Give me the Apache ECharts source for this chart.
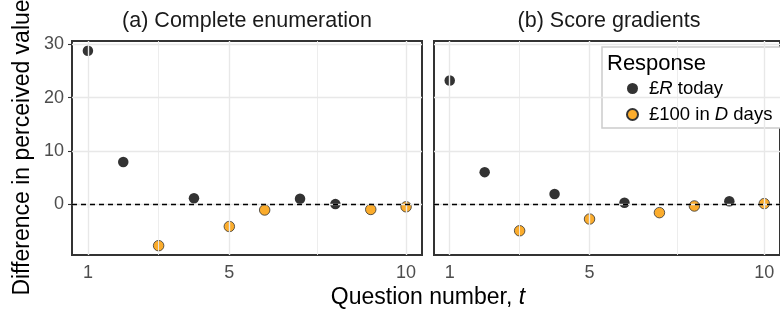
<!DOCTYPE html>
<html>
<head>
<meta charset="utf-8">
<script src="https://cdn.jsdelivr.net/npm/echarts@6/dist/echarts.min.js"></script>
<style>
  html, body { margin: 0; background: #fff; }
  #chart { width: 780px; height: 317px; }
</style>
</head>
<body>
<div id="chart"></div>
<script>
// data
const questions = [1, 2, 3, 4, 5, 6, 7, 8, 9, 10]
const enumValues = [28.8, 7.9, -7.8, 1.1, -4.2, -1.1, 1.0, 0, -1.0, -0.5]
const enumResponse = ['R', 'R', 'D', 'R', 'D', 'D', 'R', 'R', 'D', 'D']
const gradValues = [23.2, 6.0, -5.0, 1.9, -2.8, 0.25, -1.6, -0.35, 0.55, 0.1]
const gradResponse = ['R', 'R', 'D', 'R', 'D', 'R', 'D', 'D', 'R', 'D']

const panelTitles = ['(a) Complete enumeration', '(b) Score gradients']
const responseKeys = ['R', 'D']
const responseNames = ['£R today', '£100 in D days']
const xLabelBreaks = [1, 5, 10]
const xMinorBreaks = [3, 7.5]
const yBreaks = [0, 10, 20, 30]

const FONT = 'Liberation Sans, Arial, sans-serif'
const colors = { R: '#333333', D: '#FBAC2C' }

const chart = echarts.init(document.getElementById('chart'), null, { renderer: 'canvas' })

const panels = [
  { values: enumValues, response: enumResponse, left: 72 },
  { values: gradValues, response: gradResponse, left: 434 }
]

const grids = panels.map(p => ({
  left: p.left, top: 41, width: 350, height: 214,
  show: true, borderColor: '#333333', borderWidth: 2, backgroundColor: '#fff',
  containLabel: false
}))

const xAxes = panels.map((p, i) => ({
  type: 'value', gridIndex: i, min: 0.55, max: 10.45,
  axisLine: { show: false },
  splitLine: { show: false },
  axisTick: { show: true, customValues: xLabelBreaks, length: 4, lineStyle: { color: '#333', width: 1.1 } },
  axisLabel: { customValues: xLabelBreaks, color: '#4D4D4D', fontSize: 18, fontFamily: FONT, margin: 9 }
}))

const yAxes = panels.map((p, i) => ({
  type: 'value', gridIndex: i, min: -9.55, max: 30.62,
  axisLine: { show: false },
  splitLine: { show: false },
  axisTick: { show: i === 0, customValues: yBreaks, length: 4, lineStyle: { color: '#333', width: 1.1 } },
  axisLabel: { show: i === 0, customValues: yBreaks, color: '#4D4D4D', fontSize: 18, fontFamily: FONT, margin: 8 }
}))

const series = []
panels.forEach((p, i) => {
  // background grid + zero line
  series.push({
    type: 'scatter', xAxisIndex: i, yAxisIndex: i, data: [], z: 1, silent: true,
    markLine: {
      silent: true, symbol: 'none', label: { show: false }, animation: false,
      data: [
        ...xLabelBreaks.map(v => ({ xAxis: v, lineStyle: { color: '#E8E8E8', width: 1.4, type: 'solid' } })),
        ...xMinorBreaks.map(v => ({ xAxis: v, lineStyle: { color: '#EBEBEB', width: 0.9, type: 'solid' } })),
        ...yBreaks.map(v => ({ yAxis: v, lineStyle: { color: '#E8E8E8', width: 1.4, type: 'solid' } })),
        { yAxis: 0, lineStyle: { color: '#000', width: 1.3, type: [5, 4] } }
      ]
    }
  })
  responseKeys.forEach((key, k) => {
    series.push({
      name: responseNames[k], type: 'scatter', xAxisIndex: i, yAxisIndex: i, z: 3,
      symbol: 'circle', symbolSize: 10.5,
      itemStyle: {
        color: colors[key], opacity: 1,
        borderColor: key === 'D' ? '#333' : colors[key], borderWidth: key === 'D' ? 0.8 : 0
      },
      data: questions.map((q, j) => [q, p.values[j]]).filter((d, j) => p.response[j] === key)
    })
  })
})

const legendText = {
  '£R today': '{g|}{n|£}{i|R}{n| today}',
  '£100 in D days': '{g|}{n|£100 in }{i|D}{n| days}'
}

const option = {
  animation: false,
  backgroundColor: '#fff',
  grid: grids,
  xAxis: xAxes,
  yAxis: yAxes,
  series: series,
  legend: {
    data: responseNames,
    orient: 'vertical',
    left: 621, top: 74, z: 10,
    itemWidth: 11, itemHeight: 11, itemGap: 7,
    icon: 'circle',
    selectedMode: false,
    formatter: name => legendText[name],
    textStyle: {
      fontFamily: FONT, fontSize: 18.5, color: '#000',
      rich: {
        g: { width: 6 },
        n: { fontFamily: FONT, fontSize: 18.5, color: '#000' },
        i: { fontFamily: FONT, fontSize: 18.5, color: '#000', fontStyle: 'italic' }
      }
    }
  },
  graphic: [
    // legend box drawn behind the legend items
    { type: 'rect', z: 5, shape: { x: 602, y: 47, width: 200, height: 81 },
      style: { fill: '#fff', stroke: '#CCCCCC', lineWidth: 1.5 } },
    { type: 'text', z: 6, x: 607, y: 64,
      style: { text: 'Response', font: '22px ' + FONT, fill: '#000', textVerticalAlign: 'middle' } },
    // strip titles
    ...panelTitles.map((t, i) => ({
      type: 'text', x: panels[i].left + 350 / 2, y: 21,
      style: { text: t, font: '21.5px ' + FONT, fill: '#1A1A1A', textAlign: 'center', textVerticalAlign: 'middle' }
    })),
    // axis titles
    { type: 'text', x: 428, y: 298,
      style: {
        text: '{n|Question number, }{i|t}', textAlign: 'center', textVerticalAlign: 'middle',
        rich: {
          n: { fontFamily: FONT, fontSize: 23, fill: '#000' },
          i: { fontFamily: FONT, fontSize: 23, fill: '#000', fontStyle: 'italic' }
        }
      } },
    { type: 'text', x: 23, y: 147.5, rotation: Math.PI / 2,
      style: { text: 'Difference in perceived value', font: '23px ' + FONT, fill: '#000',
        textAlign: 'center', textVerticalAlign: 'middle' } }
  ]
}

chart.setOption(option)
</script>
</body>
</html>
